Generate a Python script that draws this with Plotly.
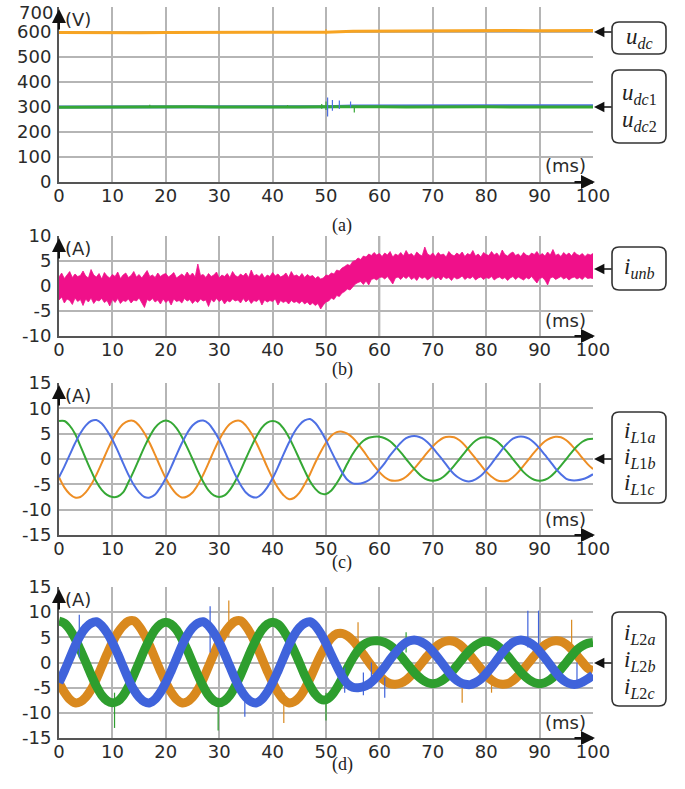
import plotly.graph_objects as go

# ---------------- DATA ----------------
t_ms = list(range(0, 101))                 # time axis, 1 ms steps
t_half = [i / 2 for i in range(201)]       # time axis, 0.5 ms steps (panel b)
t_a = list(range(0, 101, 5))               # panel (a) time samples

# (a) DC voltages (V)
u_dc = [598, 597, 598, 597, 598, 598, 597, 598, 597, 598, 599, 603, 604, 605, 605, 606, 605, 606, 605, 606, 606]
u_dc1 = [300, 300, 300, 300, 300, 300, 300, 300, 300, 300, 301, 304, 304, 305, 304, 305, 305, 304, 305, 305, 305]
u_dc2 = [299, 300, 301, 299, 300, 301, 300, 299, 301, 300, 301, 302, 301, 300, 301, 300, 301, 300, 301, 300, 300]
# spikes in (a): time, low, high
sp_a_dc1 = [(50.3, 262, 338), (51.2, 285, 328), (52.5, 292, 326), (54.6, 298, 322)]
sp_a_dc2 = [(17.0, 296, 309), (42.8, 296, 308), (49.2, 293, 312), (50.0, 288, 322), (55.3, 278, 300)]
sp_a_dc = [(50.0, 590, 612)]

# (b) unbalance current band (A): upper / lower envelopes, 0.5 ms steps
i_unb_hi = [1.8, 2.6, 1.5, 2.2, 2.9, 1.7, 2.4, 1.9, 2.1, 3.0,
            2.0, 1.6, 3.3, 2.2, 1.8, 2.5, 1.4, 2.7, 2.0, 1.6,
            2.3, 1.9, 2.8, 1.5, 2.2, 2.6, 1.7, 2.1, 2.9, 1.8,
            2.3, 1.6, 2.4, 3.1, 1.9, 2.2, 1.7, 2.6, 1.9, 2.3,
            2.5, 1.8, 2.2, 2.7, 1.6, 2.1, 2.4, 1.9, 2.8, 2.0,
            2.6, 1.8, 4.4, 2.1, 2.3, 1.7, 2.5, 1.9, 2.2, 2.8,
            1.6, 2.2, 1.9, 2.5, 1.7, 2.9, 2.1, 1.8, 2.4, 2.0,
            2.6, 1.7, 3.2, 2.0, 2.3, 1.9, 2.5, 1.6, 2.2, 1.9,
            2.7, 2.0, 2.4, 1.8, 2.1, 2.6, 1.7, 2.9, 2.0, 2.2,
            1.8, 2.5, 1.7, 2.3, 1.9, 2.1, 1.5, 1.9, 1.4, 1.6,
            2.2,
            2.1, 2.6, 2.4, 3.2, 3.0, 3.6, 3.9, 4.3, 4.1, 4.9,
            5.1, 5.6, 5.3, 6.0, 5.8, 6.4, 6.1, 6.7, 6.2, 6.5,
            5.9, 6.6, 6.2, 6.9, 5.8, 6.4, 6.1, 6.7, 6.0, 7.1,
            6.2, 6.5, 5.9, 6.8, 6.3, 6.0, 7.8, 6.4, 6.1, 6.6,
            5.9, 6.7, 6.2, 6.4, 5.8, 6.9, 6.3, 6.0, 6.6, 6.2,
            6.8, 5.9, 6.5, 6.2, 7.1, 6.0, 6.4, 5.8, 6.7, 6.3,
            6.1, 6.9, 6.2, 6.6, 5.9, 7.2, 6.3, 6.0, 6.5, 6.8,
            6.1, 6.4, 5.9, 6.7, 6.2, 6.0, 6.6, 6.3, 6.9, 6.1,
            6.5, 6.0, 6.8, 6.2, 7.3, 6.1, 6.4, 5.9, 6.7, 6.2,
            6.6, 6.0, 6.8, 6.3, 6.1, 6.5, 5.9, 6.4, 6.2, 6.5]
i_unb_lo = [-2.8, -2.2, -3.4, -2.6, -2.9, -3.7, -2.4, -3.1, -2.7, -3.9,
            -2.6, -3.2, -2.4, -3.5, -2.8, -3.0, -2.5, -3.3, -2.9, -4.0,
            -2.7, -3.3, -2.5, -3.5, -2.9, -3.1, -2.6, -3.4, -2.8, -3.0,
            -2.4, -3.3, -4.3, -2.7, -3.0, -2.5, -3.2, -2.8, -3.6, -2.6,
            -3.3, -2.8, -3.8, -2.6, -3.1, -2.9, -3.4, -2.5, -3.0, -2.7,
            -3.5, -2.9, -3.3, -2.6, -3.0, -2.8, -4.1, -2.7, -3.2, -2.5,
            -3.1, -2.7, -3.6, -2.9, -3.2, -2.6, -3.0, -2.8, -3.4, -2.5,
            -3.2, -2.7, -3.5, -2.9, -3.1, -2.6, -3.8, -2.8, -3.2, -2.9,
            -3.1, -2.6, -3.8, -2.9, -3.3, -3.0, -3.6, -2.9, -3.3, -3.1,
            -3.5, -3.0, -3.6, -3.2, -3.8, -3.4, -3.9, -3.5, -4.6, -3.8,
            -3.2,
            -3.0, -2.4, -2.7, -1.9, -2.1, -1.4, -1.1, -0.6, -0.8, -0.1,
            0.4, 0.7, 0.9, 0.3, 1.0, 0.2, 1.3, 1.5, 1.2, 1.7,
            1.8, 1.4, 1.9, 1.2, 0.4, 1.6, 1.8, 1.3, 1.9, 1.5,
            2.0, 1.3, 1.7, 1.1, 1.9, 1.5, 1.8, 1.2, 1.6, 2.0,
            1.4, 1.8, 1.2, 1.9, 1.5, 1.7, 1.1, 1.8, 1.4, 1.6,
            2.0, 1.3, 1.7, 1.5, 1.9, 1.2, 1.6, 1.8, 1.3, 1.7,
            1.5, 1.9, 1.2, 1.6, 1.8, 1.4, 1.7, 1.1, 1.6, 1.9,
            1.3, 1.8, 1.5, 1.2, 1.7, 1.4, 1.9, 1.3, 0.6, 1.5,
            1.7, 1.2, 0.2, 1.6, 1.8, 1.3, 1.6, 1.9, 1.4, 1.7,
            1.2, 1.6, 1.8, 1.4, 1.7, 1.3, 1.9, 1.5, 1.6, 1.5]

# (c) line currents, converter 1 (A)
i_L1_green = [7.5, 7.5, 6.6, 5.0, 2.6, 0.1, -2.3, -4.5, -6.1, -7.1,
              -7.5, -7.4, -6.6, -4.6, -2.4, 0.0, 2.4, 4.5, 6.2, 7.2,
              7.6, 7.2, 6.1, 4.4, 2.3, 0.0, -2.4, -4.5, -6.2, -7.2,
              -7.5, -7.2, -6.1, -4.4, -2.3, 0.1, 2.4, 4.5, 6.2, 7.2,
              7.5, 7.2, 6.1, 4.4, 2.3, 0.0, -2.3, -4.4, -5.9, -6.8,
              -6.9, -6.2, -4.8, -3.0, -0.9, 1.0, 2.5, 3.6, 4.2, 4.4,
              4.4, 4.1, 3.5, 2.5, 1.3, 0.0, -1.3, -2.5, -3.5, -4.1,
              -4.3, -4.1, -3.5, -2.5, -1.3, 0.0, 1.3, 2.6, 3.6, 4.2,
              4.3, 4.1, 3.5, 2.5, 1.3, 0.0, -1.3, -2.6, -3.5, -4.1,
              -4.3, -4.1, -3.5, -2.5, -1.3, 0.0, 1.3, 2.5, 3.4, 3.9,
              4.0]
i_L1_blue = [-3.6, -1.5, 0.8, 3.1, 5.1, 6.6, 7.5, 7.7, 7.0, 5.6,
             3.8, 1.6, -0.8, -3.1, -5.1, -6.6, -7.5, -7.6, -7.0, -5.6,
             -3.8, -1.6, 0.8, 3.1, 5.1, 6.6, 7.4, 7.6, 7.0, 5.6,
             3.8, 1.6, -0.8, -3.1, -5.1, -6.6, -7.4, -7.6, -6.9, -5.6,
             -3.8, -1.6, 0.8, 3.1, 5.2, 6.7, 7.6, 7.9, 7.1, 5.6,
             3.7, 1.5, -0.6, -2.6, -4.1, -4.8, -4.9, -4.7, -4.2, -3.3,
             -2.1, -0.8, 0.7, 2.0, 3.2, 4.1, 4.5, 4.5, 4.1, 3.3,
             2.2, 0.9, -0.4, -1.8, -3.0, -3.8, -4.3, -4.4, -4.0, -3.3,
             -2.2, -0.9, 0.5, 1.9, 3.1, 4.0, 4.4, 4.4, 4.0, 3.2,
             2.1, 0.8, -0.5, -1.9, -3.0, -3.9, -4.2, -4.2, -4.0, -3.6,
             -3.0]
i_L1_orange = [-3.6, -5.6, -6.9, -7.6, -7.5, -6.6, -5.1, -3.1, -0.8, 1.6,
               3.8, 5.6, 6.9, 7.5, 7.5, 6.6, 5.1, 3.1, 0.8, -1.6,
               -3.8, -5.6, -6.9, -7.6, -7.4, -6.6, -5.1, -3.1, -0.8, 1.6,
               3.8, 5.6, 6.9, 7.5, 7.5, 6.6, 5.1, 3.1, 0.8, -1.6,
               -3.8, -5.7, -7.1, -7.9, -7.7, -6.7, -5.0, -3.0, -0.7, 1.4,
               3.2, 4.6, 5.3, 5.4, 5.0, 4.2, 3.0, 1.6, 0.1, -1.3,
               -2.6, -3.6, -4.2, -4.3, -4.1, -3.5, -2.5, -1.3, 0.0, 1.3,
               2.5, 3.5, 4.2, 4.4, 4.3, 3.7, 2.7, 1.4, 0.1, -1.2,
               -2.5, -3.5, -4.2, -4.4, -4.3, -3.6, -2.6, -1.3, 0.0, 1.3,
               2.5, 3.5, 4.1, 4.4, 4.3, 3.7, 2.7, 1.5, 0.2, -1.0,
               -2.0]

# (d) line currents, converter 2 (A)
i_L2_green = [8.2, 7.8, 6.6, 4.8, 2.5, 0.1, -2.4, -4.7, -6.5, -7.6,
              -8.0, -7.7, -6.6, -4.8, -2.5, 0.0, 2.5, 4.7, 6.5, 7.6,
              8.0, 7.6, 6.5, 4.7, 2.5, 0.0, -2.5, -4.7, -6.5, -7.6,
              -8.0, -7.6, -6.5, -4.7, -2.5, 0.0, 2.5, 4.7, 6.5, 7.6,
              8.0, 7.6, 6.4, 4.6, 2.4, 0.0, -2.5, -4.6, -6.3, -7.3,
              -7.4, -6.6, -5.1, -3.2, -1.1, 0.8, 2.4, 3.5, 4.1, 4.3,
              4.3, 4.0, 3.4, 2.5, 1.3, 0.0, -1.3, -2.5, -3.4, -4.0,
              -4.2, -4.0, -3.4, -2.5, -1.3, 0.0, 1.3, 2.5, 3.4, 4.0,
              4.2, 4.0, 3.4, 2.5, 1.3, 0.0, -1.3, -2.5, -3.4, -4.0,
              -4.2, -4.0, -3.4, -2.5, -1.3, 0.0, 1.3, 2.5, 3.3, 3.8,
              4.0]
i_L2_blue = [-4.0, -1.7, 0.8, 3.3, 5.4, 6.9, 7.8, 8.1, 7.3, 5.9,
             4.0, 1.7, -0.8, -3.3, -5.4, -6.9, -7.8, -8.0, -7.3, -5.9,
             -4.0, -1.7, 0.8, 3.3, 5.4, 6.9, 7.8, 8.1, 7.3, 5.9,
             4.0, 1.7, -0.8, -3.3, -5.4, -6.9, -7.8, -8.0, -7.3, -5.9,
             -4.0, -1.7, 0.8, 3.3, 5.4, 6.9, 7.8, 8.1, 7.3, 5.8,
             3.8, 1.5, -0.7, -2.7, -4.2, -4.9, -5.0, -4.8, -4.3, -3.4,
             -2.2, -0.9, 0.6, 1.9, 3.1, 4.0, 4.4, 4.4, 4.0, 3.3,
             2.2, 0.9, -0.5, -1.9, -3.1, -3.9, -4.3, -4.4, -4.0, -3.3,
             -2.2, -0.9, 0.5, 1.9, 3.1, 4.0, 4.4, 4.4, 4.0, 3.3,
             2.2, 0.9, -0.5, -1.9, -3.1, -3.9, -4.3, -4.3, -3.9, -3.3,
             -2.5]
i_L2_orange = [-4.0, -5.9, -7.3, -8.0, -7.8, -6.9, -5.4, -3.3, -0.8, 1.7,
               4.0, 5.9, 7.3, 8.2, 8.3, 7.2, 5.5, 3.3, 0.8, -1.7,
               -4.0, -5.9, -7.3, -8.0, -7.8, -6.9, -5.4, -3.3, -0.8, 1.7,
               4.0, 5.9, 7.3, 8.2, 8.3, 7.2, 5.5, 3.3, 0.8, -1.7,
               -4.0, -5.9, -7.3, -8.0, -7.8, -6.9, -5.3, -3.2, -0.8, 1.5,
               3.4, 4.9, 5.7, 5.8, 5.3, 4.4, 3.1, 1.6, 0.1, -1.3,
               -2.6, -3.6, -4.2, -4.3, -4.1, -3.5, -2.5, -1.3, 0.0, 1.3,
               2.5, 3.5, 4.1, 4.3, 4.2, 3.6, 2.6, 1.4, 0.1, -1.2,
               -2.5, -3.5, -4.1, -4.3, -4.2, -3.6, -2.6, -1.3, 0.0, 1.3,
               2.5, 3.5, 4.1, 4.3, 4.2, 3.6, 2.6, 1.4, 0.1, -1.1,
               -1.6]
# spikes in (d): time, low, high
sp_d_blue = [(3.8, 1.0, 9.5), (28.3, 2.0, 11.2), (34.8, -10.8, -6.0), (53.5, -6.0, -1.0),
             (57.0, -6.5, -2.0), (58.5, -5.0, 0.0), (61.0, -7.0, -3.0), (87.8, 3.0, 10.3),
             (89.8, 2.0, 10.3), (97.0, -5.0, 0.0)]
sp_d_orange = [(31.8, 5.0, 12.3), (42.1, -12.0, -6.0), (56.0, 3.0, 8.0), (75.5, -8.0, -4.0),
               (81.0, -6.0, -3.0), (96.0, 2.0, 8.5)]
sp_d_green = [(10.4, -13.0, -6.0), (29.8, -13.5, -7.0), (50.0, -11.5, -6.0), (65.0, 2.0, 6.0)]

# tick labels
x_ticks = [0, 10, 20, 30, 40, 50, 60, 70, 80, 90, 100]
y_ticks_a = [0, 100, 200, 300, 400, 500, 600, 700]
y_ticks_b = [-10, -5, 0, 5, 10]
y_ticks_cd = [-15, -10, -5, 0, 5, 10, 15]

# ---------------- LAYOUT HELPERS ----------------
W, H = 685, 789
X0, X1 = 59, 593   # page pixel positions of 0 ms and 100 ms


def px(x):
    return x / W


def py(y):
    return min(1.0, 1 - y / H)


panels = [
    # name, top px, bottom px, y range, ticks, unit
    ("a", 7, 182, [0, 700], y_ticks_a, "(V)"),
    ("b", 236, 336, [-10, 10], y_ticks_b, "(A)"),
    ("c", 383, 535, [-15, 15], y_ticks_cd, "(A)"),
    ("d", 587, 738, [-15, 15], y_ticks_cd, "(A)"),
]

C_OR_A = "#F7A422"
C_GR = "#35A835"
C_BL = "#4E70E4"
C_OR_C = "#EE8E24"
C_PINK = "#F0108A"
C_OR_D = "#D9891E"
C_GR_D = "#2E9E2E"
C_BL_D = "#3F63DB"

fig = go.Figure()
layout = dict(width=W, height=H, margin=dict(l=0, r=0, t=0, b=0, autoexpand=False),
              paper_bgcolor="white", plot_bgcolor="white", showlegend=False)
tickfont = dict(family="DejaVu Sans", size=18, color="#2a2a2a")

for i, (name, top, bot, yr, yt, unit) in enumerate(panels):
    k = "" if i == 0 else str(i + 1)
    # the topmost "700" label is drawn separately, a little lower, so it is not cut off
    ytext = ["" if (name == "a" and v == 700) else str(v) for v in yt]
    layout["xaxis" + k] = dict(domain=[px(X0), px(X1)], anchor="y" + k, range=[0, 100],
                               tickvals=x_ticks, ticktext=[str(v) for v in x_ticks],
                               showgrid=True, gridcolor="#b5b5b5", gridwidth=1.5,
                               showline=True, linecolor="#555", linewidth=2, zeroline=False,
                               ticks="", tickfont=tickfont, fixedrange=True, automargin=False,
                               ticklabelstandoff=-4, ticklabeloverflow="allow")
    layout["yaxis" + k] = dict(domain=[py(bot), py(top)], anchor="x" + k, range=yr,
                               tickvals=yt, ticktext=ytext,
                               showgrid=True, gridcolor="#b5b5b5", gridwidth=1.5,
                               showline=True, linecolor="#555", linewidth=2, zeroline=False,
                               ticks="", tickfont=tickfont, fixedrange=True, automargin=False,
                               ticklabelstandoff=2, ticklabeloverflow="allow")


def spike_xy(spikes):
    X, Y = [], []
    for x, lo, hi in spikes:
        X += [x, x, None]
        Y += [lo, hi, None]
    return X, Y


# ---- (a)
fig.add_trace(go.Scatter(x=t_a, y=u_dc1, mode="lines", line=dict(color=C_BL, width=3), xaxis="x", yaxis="y"))
fig.add_trace(go.Scatter(x=t_a, y=u_dc2, mode="lines", line=dict(color=C_GR, width=3), xaxis="x", yaxis="y"))
fig.add_trace(go.Scatter(x=t_a, y=u_dc, mode="lines", line=dict(color=C_OR_A, width=3), xaxis="x", yaxis="y"))
for sp, col in [(sp_a_dc1, C_BL), (sp_a_dc2, C_GR), (sp_a_dc, C_OR_A)]:
    X, Y = spike_xy(sp)
    fig.add_trace(go.Scatter(x=X, y=Y, mode="lines", line=dict(color=col, width=1.2), xaxis="x", yaxis="y"))

# ---- (b)
fig.add_trace(go.Scatter(x=t_half, y=i_unb_lo, mode="lines", line=dict(color=C_PINK, width=0.8),
                         xaxis="x2", yaxis="y2"))
fig.add_trace(go.Scatter(x=t_half, y=i_unb_hi, mode="lines", line=dict(color=C_PINK, width=0.8),
                         fill="tonexty", fillcolor=C_PINK, xaxis="x2", yaxis="y2"))

# ---- (c)
for ys, col in [(i_L1_orange, C_OR_C), (i_L1_green, C_GR), (i_L1_blue, C_BL)]:
    fig.add_trace(go.Scatter(x=t_ms, y=ys, mode="lines", line=dict(color=col, width=2, shape="spline"),
                             xaxis="x3", yaxis="y3"))

# ---- (d)
for ys, col, sp in [(i_L2_orange, C_OR_D, sp_d_orange), (i_L2_green, C_GR_D, sp_d_green),
                    (i_L2_blue, C_BL_D, sp_d_blue)]:
    fig.add_trace(go.Scatter(x=t_ms, y=ys, mode="lines", line=dict(color=col, width=9, shape="spline"),
                             xaxis="x4", yaxis="y4"))
    X, Y = spike_xy(sp)
    fig.add_trace(go.Scatter(x=X, y=Y, mode="lines", line=dict(color=col, width=1.2),
                             xaxis="x4", yaxis="y4"))

# ---------------- DECORATIONS ----------------
shapes = []
annotations = []

dark_v = {"a": [70], "b": [60], "c": [20], "d": [70]}
dark_h = {"a": [], "b": [-5], "c": [], "d": [5]}

for i, (name, top, bot, yr, yt, unit) in enumerate(panels):
    k = "" if i == 0 else str(i + 1)
    xr, yref = "x" + k, "y" + k
    for xv in dark_v[name]:
        shapes.append(dict(type="line", xref=xr, yref=yref, x0=xv, x1=xv, y0=yr[0], y1=yr[1],
                           line=dict(color="#555", width=1.5), layer="below"))
    for yv in dark_h[name]:
        shapes.append(dict(type="line", xref=xr, yref=yref, x0=0, x1=100, y0=yv, y1=yv,
                           line=dict(color="#666", width=1.5), layer="below"))
    # dotted cursor at 50 ms
    shapes.append(dict(type="line", xref=xr, yref=yref, x0=50, x1=50, y0=yr[0], y1=yr[1],
                       line=dict(color="#444", width=1.8, dash="dot"), layer="below"))
    # axis arrows
    annotations.append(dict(xref="paper", yref="paper", x=px(X1 + 2), y=py(bot), ax=-22, ay=0,
                            text="", showarrow=True, arrowhead=2, arrowsize=1.4, arrowwidth=2,
                            arrowcolor="#111"))
    annotations.append(dict(xref="paper", yref="paper", x=px(X0), y=py(top + 2), ax=0, ay=22,
                            text="", showarrow=True, arrowhead=2, arrowsize=1.4, arrowwidth=2,
                            arrowcolor="#111"))
    # unit labels
    annotations.append(dict(xref="paper", yref="paper", x=px(63), y=py(top + 12), text=unit,
                            showarrow=False, xanchor="left", yanchor="middle",
                            font=dict(family="DejaVu Sans", size=18, color="#2a2a2a")))
    annotations.append(dict(xref="paper", yref="paper", x=px(565), y=py(bot - 16), text="(ms)",
                            showarrow=False, xanchor="center", yanchor="middle",
                            font=dict(family="DejaVu Sans", size=18, color="#2a2a2a")))

# top tick label of panel (a)
annotations.append(dict(xref="paper", yref="paper", x=px(55), y=py(12), text=str(y_ticks_a[-1]),
                        showarrow=False, xanchor="right", yanchor="middle", font=tickfont))

# captions
for cap, yc in [("(a)", 213), ("(b)", 369), ("(c)", 575), ("(d)", 777)]:
    annotations.append(dict(xref="paper", yref="paper", x=px(342), y=py(yc), text=cap,
                            showarrow=False, font=dict(family="Liberation Serif", size=18, color="#222")))

# label boxes: (top, bottom, arrow y, [(text, y)])
boxes = [
    (22, 54, 32, [("<i>u</i><sub><i>dc</i></sub>", 38)]),
    (70, 143, 107, [("<i>u</i><sub><i>dc</i>1</sub>", 94), ("<i>u</i><sub><i>dc</i>2</sub>", 121)]),
    (247, 290, 269, [("<i>i</i><sub><i>unb</i></sub>", 268)]),
    (412, 503, 459, [("<i>i</i><sub><i>L</i>1<i>a</i></sub>", 432), ("<i>i</i><sub><i>L</i>1<i>b</i></sub>", 458),
                     ("<i>i</i><sub><i>L</i>1<i>c</i></sub>", 484)]),
    (612, 706, 663, [("<i>i</i><sub><i>L</i>2<i>a</i></sub>", 634), ("<i>i</i><sub><i>L</i>2<i>b</i></sub>", 661),
                     ("<i>i</i><sub><i>L</i>2<i>c</i></sub>", 688)]),
]
BX0, BX1, R = 612, 666, 7
for top, bot, ay_px, lines in boxes:
    x0, x1, y0, y1 = BX0, BX1, top, bot
    pts = [("M", x0 + R, y0), ("L", x1 - R, y0), ("Q", x1, y0, x1, y0 + R), ("L", x1, y1 - R),
           ("Q", x1, y1, x1 - R, y1), ("L", x0 + R, y1), ("Q", x0, y1, x0, y1 - R), ("L", x0, y0 + R),
           ("Q", x0, y0, x0 + R, y0)]
    path = ""
    for p in pts:
        cmd = p[0]
        coords = p[1:]
        s = []
        for j in range(0, len(coords), 2):
            s.append(f"{px(coords[j]):.5f},{py(coords[j + 1]):.5f}")
        path += cmd + " " + " ".join(s) + " "
    path += "Z"
    shapes.append(dict(type="path", xref="paper", yref="paper", path=path,
                       line=dict(color="#333", width=1.6)))
    annotations.append(dict(xref="paper", yref="paper", x=px(X1 + 1), y=py(ay_px), ax=19, ay=0,
                            text="", showarrow=True, arrowhead=2, arrowsize=1.3, arrowwidth=1.6,
                            arrowcolor="#111"))
    for txt, yl in lines:
        annotations.append(dict(xref="paper", yref="paper", x=px((x0 + x1) / 2), y=py(yl), text=txt,
                                showarrow=False, xanchor="center", yanchor="middle",
                                font=dict(family="Liberation Serif", size=23, color="#222")))

layout["shapes"] = shapes
layout["annotations"] = annotations
fig.update_layout(**layout)
fig.write_html("out.html", config={"displayModeBar": False},
               post_script="document.body.style.margin='0px';")
